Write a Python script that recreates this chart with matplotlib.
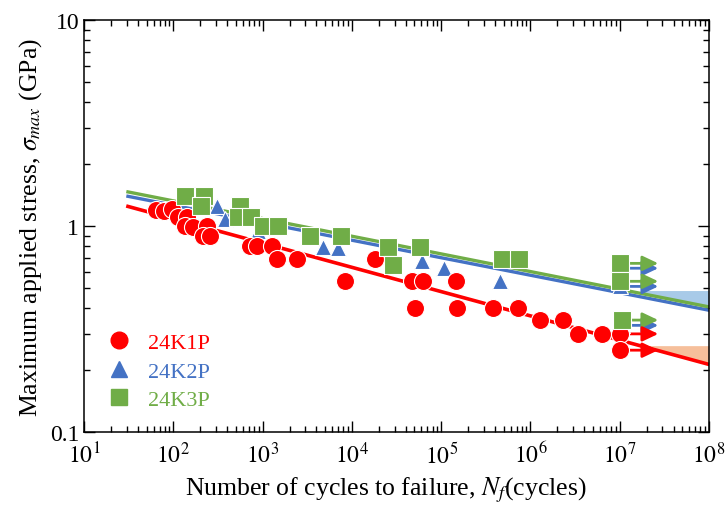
"""S-N plot of 24K1P / 24K2P / 24K3P (max applied stress vs cycles to failure)."""
import numpy as np
import matplotlib
matplotlib.use("Agg")
import matplotlib.pyplot as plt
from matplotlib.lines import Line2D

plt.rcParams["font.family"] = ["Liberation Serif", "DejaVu Serif"]
plt.rcParams["mathtext.fontset"] = "stix"

RED, BLUE, GREEN = "#ff0000", "#4472c4", "#70ad47"

# 24K1P (failed)
k1_n = [64, 79, 97, 113, 142, 135, 166, 238, 215, 258, 722, 866, 1274, 1449, 2427,
        8370, 18150, 47100, 62500, 50900, 146500, 150400, 380000, 724000,
        1.28e6, 2.31e6, 3.4e6, 6.3e6]
k1_s = [1.20, 1.19, 1.21, 1.11, 1.11, 1.00, 0.99, 1.00, 0.90, 0.90, 0.80, 0.80, 0.80,
        0.69, 0.69, 0.54, 0.69, 0.54, 0.54, 0.40, 0.54, 0.40, 0.40, 0.40,
        0.35, 0.35, 0.30, 0.30]
k1_run_n = [1e7, 1e7]
k1_run_s = [0.30, 0.25]

# 24K2P (failed)
k2_n = [309, 381, 890, 4740, 7000, 61000, 107000, 455000]
k2_s = [1.26, 1.08, 0.95, 0.79, 0.78, 0.68, 0.63, 0.54]
k2_run_n = [1e7, 1e7, 1.05e7]
k2_run_s = [0.625, 0.51, 0.33]

# 24K3P (failed)
k3_n = [135, 221, 204, 558, 531, 742, 1010, 1486, 3400, 7550, 25400, 28800, 58000,
        478000, 742000]
k3_s = [1.40, 1.40, 1.26, 1.26, 1.11, 1.11, 1.00, 1.00, 0.90, 0.90, 0.79, 0.65, 0.79,
        0.69, 0.69]
k3_run_n = [1e7, 1e7, 1.05e7]
k3_run_s = [0.66, 0.54, 0.35]

# power-law fits sigma = a * N**b
fit_a = {"24K1P": 1.87, "24K2P": 1.87, "24K3P": 1.97}
fit_b = {"24K1P": -0.1179, "24K2P": -0.085, "24K3P": -0.0858}
fit_range = (31, 1e8)

# shaded bands between a horizontal level and the fit line
band_level = {"24K2P": 0.487, "24K1P": 0.263}
band_start = {"24K2P": 1.8e7, "24K1P": 2.0e7}
run_tip = 2.7e7


def fit(name, n):
    return fit_a[name] * np.asarray(n, dtype=float) ** fit_b[name]


fig = plt.figure(figsize=(7.25, 5.06), dpi=100)
ax = fig.add_axes([0.116, 0.144, 0.862, 0.814])
ax.set_xscale("log")
ax.set_yscale("log")
ax.set_xlim(10, 1e8)
ax.set_ylim(0.1, 10)

# bands
nb = np.logspace(np.log10(band_start["24K2P"]), 8, 50)
ax.fill_between(nb, band_level["24K2P"], fit("24K3P", nb), color="#a8cae8",
                lw=0, zorder=1)
nb = np.logspace(np.log10(band_start["24K1P"]), 8, 50)
ax.fill_between(nb, band_level["24K1P"], fit("24K1P", nb), color="#f6bf9b",
                lw=0, zorder=1)

# fit lines
nf = np.logspace(np.log10(fit_range[0]), np.log10(fit_range[1]), 100)
ax.plot(nf, fit("24K1P", nf), color=RED, lw=2.6, zorder=2)
ax.plot(nf, fit("24K2P", nf), color=BLUE, lw=2.4, zorder=2)
ax.plot(nf, fit("24K3P", nf), color=GREEN, lw=2.4, zorder=2.1)


def runouts(ns, ss, color, z):
    for n, s in zip(ns, ss):
        ax.annotate("", xy=(run_tip, s), xytext=(n, s),
                    arrowprops=dict(arrowstyle="-|>,head_length=0.95,head_width=0.45",
                                    color=color, lw=2.0, shrinkA=0, shrinkB=0,
                                    mutation_scale=10),
                    zorder=z)


runouts(k2_run_n, k2_run_s, BLUE, 2.5)
runouts(k3_run_n, k3_run_s, GREEN, 2.6)
runouts(k1_run_n, k1_run_s, RED, 2.7)

mk = dict(ls="none", mec="white", mew=0.8)
ax.plot(k2_n + k2_run_n, k2_s + k2_run_s, marker="^", ms=12, color=BLUE, zorder=3, **mk)
ax.plot(k1_n + k1_run_n, k1_s + k1_run_s, marker="o", ms=13, color=RED, zorder=3.1, **mk)
ax.plot(k3_n + k3_run_n, k3_s + k3_run_s, marker="s", ms=13, color=GREEN, zorder=3.2, **mk)

# axes styling
ax.tick_params(which="both", direction="in", top=True, right=True, labelsize=17)
ax.tick_params(which="major", length=8, width=1)
ax.tick_params(which="minor", length=4.5, width=1)
for sp in ax.spines.values():
    sp.set_linewidth(1.1)
ax.set_yticks([0.1, 1, 10])
ax.set_yticklabels(["0.1", "1", "10"])
ax.set_xticks([10.0 ** k for k in range(1, 9)])
ax.set_xticklabels([f"$10^{k}$" for k in range(1, 9)])
ax.xaxis.set_minor_locator(matplotlib.ticker.LogLocator(base=10, subs=np.arange(2, 10)))
ax.xaxis.set_minor_formatter(matplotlib.ticker.NullFormatter())
ax.yaxis.set_minor_formatter(matplotlib.ticker.NullFormatter())
ax.tick_params(axis="x", pad=7)

ax.set_xlabel("Number of cycles to failure, $N_f$(cycles)", fontsize=18.5, labelpad=5)
ax.xaxis.label.set_x(0.483)
ax.set_ylabel("Maximum applied stress, $\\sigma_{max}$ (GPa)", fontsize=18.5, labelpad=4)

handles = [Line2D([], [], ls="none", marker="o", ms=12, color=RED),
           Line2D([], [], ls="none", marker="^", ms=11, color=BLUE),
           Line2D([], [], ls="none", marker="s", ms=11, color=GREEN)]
leg = ax.legend(handles, ["24K1P", "24K2P", "24K3P"], loc="upper left",
                bbox_to_anchor=(0.003, 0.29), frameon=False, fontsize=16,
                handletextpad=0.7, labelspacing=0.35, handlelength=1.2)
for t, c in zip(leg.get_texts(), [RED, BLUE, GREEN]):
    t.set_color(c)

fig.savefig("out.png", dpi=100)
